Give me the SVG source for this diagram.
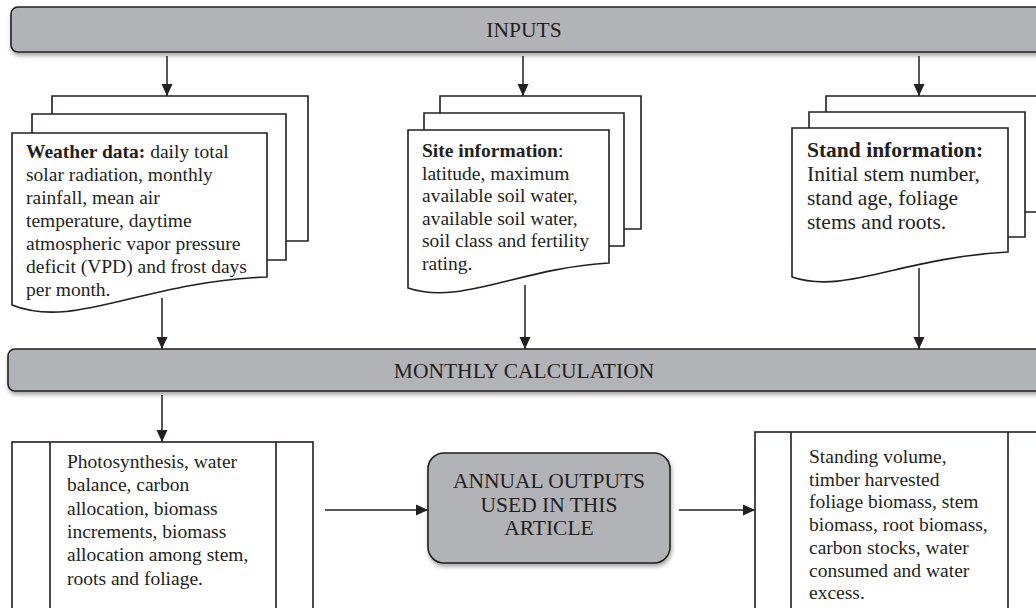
<svg xmlns="http://www.w3.org/2000/svg" width="1036" height="608" viewBox="0 0 1036 608">
<defs>
<marker id="ah" viewBox="0 0 12 12" refX="12" refY="6" markerWidth="12" markerHeight="12" markerUnits="userSpaceOnUse" orient="auto">
<path d="M0,0.5 L12,6 L0,11.5 Z" fill="#231f20"/>
</marker>
<filter id="sh" x="-5%" y="-20%" width="110%" height="150%">
<feDropShadow dx="1" dy="3" stdDeviation="2" flood-color="#000" flood-opacity="0.35"/>
</filter>
</defs>
<style>
.bar{fill:#b2b3b7;stroke:#231f20;stroke-width:1.6;filter:url(#sh)}
.pg{fill:#fff;stroke:#231f20;stroke-width:1.6}
.ln{fill:none;stroke:#231f20;stroke-width:1.6}
.cn{fill:none;stroke:#231f20;stroke-width:1.5;marker-end:url(#ah)}
text{font-family:"Liberation Serif","Times New Roman",serif;fill:#231f20}
.t{font-size:19.5px}
.ts{font-size:21.5px}
.h{font-size:21.5px;text-anchor:middle}
.b{font-weight:bold}
</style>
<rect width="1036" height="608" fill="#fff"/>

<g id="inputs">
<rect class="bar" x="11" y="7" width="1045" height="45" rx="7"/>
<text class="h" x="524" y="37">INPUTS</text>
</g>

<g id="weather">
<path class="pg" d="M52,114 V96 H308 V241 H286"/>
<path class="pg" d="M32,133 V114 H286 V260 H267"/>
<path class="pg" d="M12,305 V133 H267 V277 C140,282 75,330 12,305 Z"/>
<text class="t" x="26" y="158"><tspan class="b">Weather data:</tspan> daily total</text>
<text class="t" x="26" y="181">solar radiation, monthly</text>
<text class="t" x="26" y="204">rainfall, mean air</text>
<text class="t" x="26" y="227">temperature, daytime</text>
<text class="t" x="26" y="250">atmospheric vapor pressure</text>
<text class="t" x="26" y="273">deficit (VPD) and frost days</text>
<text class="t" x="26" y="296">per month.</text>
</g>

<g id="site">
<path class="pg" d="M440,113 V96 H641 V229 H624"/>
<path class="pg" d="M424,130 V113 H624 V246 H609"/>
<path class="pg" d="M408,288 V130 H609 V263 C520,268 460,306 408,288 Z"/>
<text class="t" x="422" y="157"><tspan class="b">Site information</tspan>:</text>
<text class="t" x="422" y="179.5">latitude, maximum</text>
<text class="t" x="422" y="202">available soil water,</text>
<text class="t" x="422" y="224.5">available soil water,</text>
<text class="t" x="422" y="247">soil class and fertility</text>
<text class="t" x="422" y="269.5">rating.</text>
</g>

<g id="stand">
<path class="pg" d="M826,112 V96 H1045 V212 H1025"/>
<path class="pg" d="M809,128 V112 H1025 V237 H1008"/>
<path class="pg" d="M792,277 V128 H1008 V252 C900,258 845,295 792,277 Z"/>
<text class="ts" x="807" y="157"><tspan class="b">Stand information:</tspan></text>
<text class="ts" x="807" y="181">Initial stem number,</text>
<text class="ts" x="807" y="205">stand age, foliage</text>
<text class="ts" x="807" y="229">stems and roots.</text>
</g>

<g id="monthly">
<rect class="bar" x="8" y="349" width="1045" height="42" rx="7"/>
<text class="h" x="524" y="378">MONTHLY CALCULATION</text>
</g>

<g id="process">
<rect class="pg" x="12" y="442" width="301" height="180"/>
<path class="ln" d="M50,442 V620 M276,442 V620"/>
<text class="t" x="67" y="468">Photosynthesis, water</text>
<text class="t" x="67" y="491.3">balance, carbon</text>
<text class="t" x="67" y="514.6">allocation, biomass</text>
<text class="t" x="67" y="537.9">increments, biomass</text>
<text class="t" x="67" y="561.2">allocation among stem,</text>
<text class="t" x="67" y="584.5">roots and foliage.</text>
</g>

<g id="annual">
<rect class="bar" x="428" y="453" width="242" height="110" rx="16"/>
<text class="h" x="549" y="488">ANNUAL OUTPUTS</text>
<text class="h" x="549" y="511.5">USED IN THIS</text>
<text class="h" x="549" y="535">ARTICLE</text>
</g>

<g id="outputs">
<rect class="pg" x="755" y="432" width="300" height="190"/>
<path class="ln" d="M791,432 V620 M1008,432 V620"/>
<text class="t" x="809" y="463">Standing volume,</text>
<text class="t" x="809" y="485.7">timber harvested</text>
<text class="t" x="809" y="508.4">foliage biomass, stem</text>
<text class="t" x="809" y="531.1">biomass, root biomass,</text>
<text class="t" x="809" y="553.8">carbon stocks, water</text>
<text class="t" x="809" y="576.5">consumed and water</text>
<text class="t" x="809" y="599.2">excess.</text>
</g>

<g id="connectors">
<path class="cn" d="M167,56 V96"/>
<path class="cn" d="M523,56 V96"/>
<path class="cn" d="M919,56 V96"/>
<path class="cn" d="M162,298 V349"/>
<path class="cn" d="M525,285 V349"/>
<path class="cn" d="M919,268 V349"/>
<path class="cn" d="M162,395 V442"/>
<path class="cn" d="M325,510 H428"/>
<path class="cn" d="M679,510 H755"/>
</g>
</svg>
